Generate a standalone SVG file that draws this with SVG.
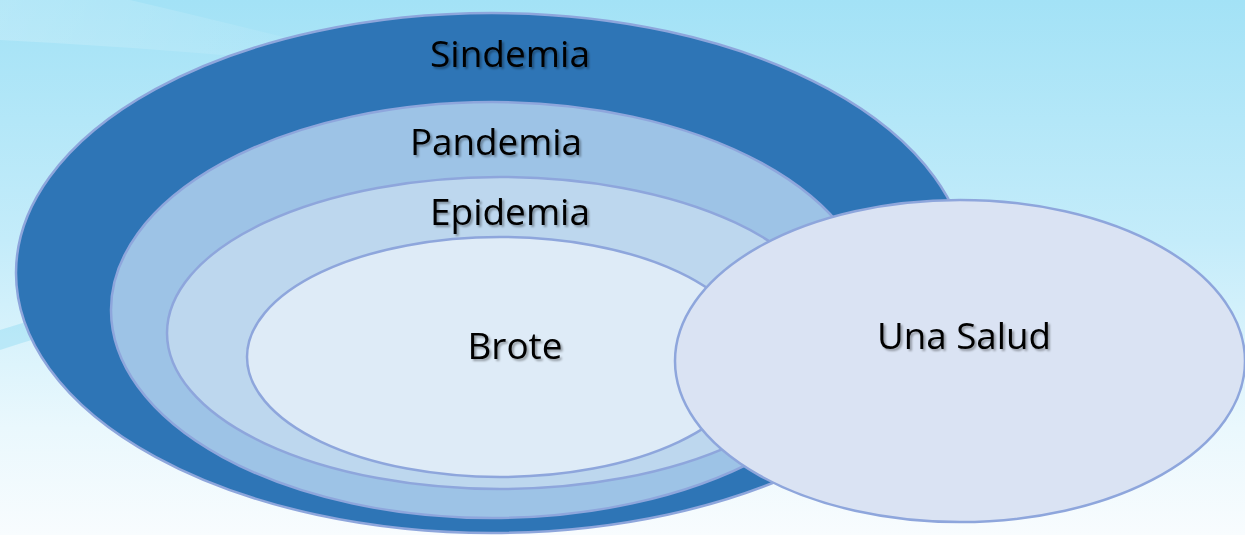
<svg xmlns="http://www.w3.org/2000/svg" width="1245" height="535" viewBox="0 0 1245 535">
  <defs>
    <linearGradient id="bg" x1="0" y1="0" x2="0" y2="1">
      <stop offset="0" stop-color="#a3e2f6"/>
      <stop offset="0.45" stop-color="#c4ecfa"/>
      <stop offset="0.8" stop-color="#eaf8fd"/>
      <stop offset="1" stop-color="#f8fcfe"/>
    </linearGradient>
    <linearGradient id="swoosh" x1="0" y1="0" x2="1" y2="0">
      <stop offset="0" stop-color="#ffffff" stop-opacity="0.2"/>
      <stop offset="1" stop-color="#ffffff" stop-opacity="0"/>
    </linearGradient>
    <filter id="shadow" x="-10%" y="-20%" width="130%" height="150%">
      <feGaussianBlur in="SourceAlpha" stdDeviation="1.2"/>
      <feOffset dx="1.5" dy="1.5" result="b"/>
      <feComponentTransfer><feFuncA type="linear" slope="0.35"/></feComponentTransfer>
      <feMerge><feMergeNode/><feMergeNode in="SourceGraphic"/></feMerge>
    </filter>
  </defs>
  <style>
    .ring { stroke: #8ea6dc; stroke-width: 2.5; }
    .lbl { font-family: "Open Sans", "Noto Sans", "Liberation Sans", sans-serif; font-size: 37px; fill: #000; text-anchor: middle; filter: url(#shadow); }
  </style>

  <!-- backdrop -->
  <rect width="1245" height="535" fill="url(#bg)"/>
  <path d="M0,0 L130,0 Q300,40 430,75 Q200,50 0,40 Z" fill="url(#swoosh)"/>
  <path d="M0,330 Q90,300 200,300 Q90,320 0,350 Z" fill="#6fd0f0" opacity="0.3"/>

  <g id="sindemia">
    <ellipse class="ring" cx="492" cy="273" rx="476" ry="260" fill="#2e75b6"/>
    <text class="lbl" x="510" y="67" textLength="160" lengthAdjust="spacingAndGlyphs">Sindemia</text>
  </g>
  <g id="pandemia">
    <ellipse class="ring" cx="492" cy="310" rx="381" ry="208" fill="#9dc3e6"/>
    <text class="lbl" x="496" y="155" textLength="172" lengthAdjust="spacingAndGlyphs">Pandemia</text>
  </g>
  <g id="epidemia">
    <ellipse class="ring" cx="500" cy="333" rx="333" ry="156" fill="#bdd7ee"/>
    <text class="lbl" x="510" y="225" textLength="160" lengthAdjust="spacingAndGlyphs">Epidemia</text>
  </g>
  <g id="brote">
    <ellipse class="ring" cx="500" cy="357" rx="253" ry="120" fill="#deebf7"/>
    <text class="lbl" x="515" y="359" textLength="95" lengthAdjust="spacingAndGlyphs">Brote</text>
  </g>
  <g id="una-salud">
    <ellipse class="ring" cx="960" cy="361" rx="285" ry="161" fill="#dae3f3"/>
    <text class="lbl" x="964" y="349" textLength="174" lengthAdjust="spacingAndGlyphs">Una Salud</text>
  </g>

  <g id="connectors"></g>
</svg>
